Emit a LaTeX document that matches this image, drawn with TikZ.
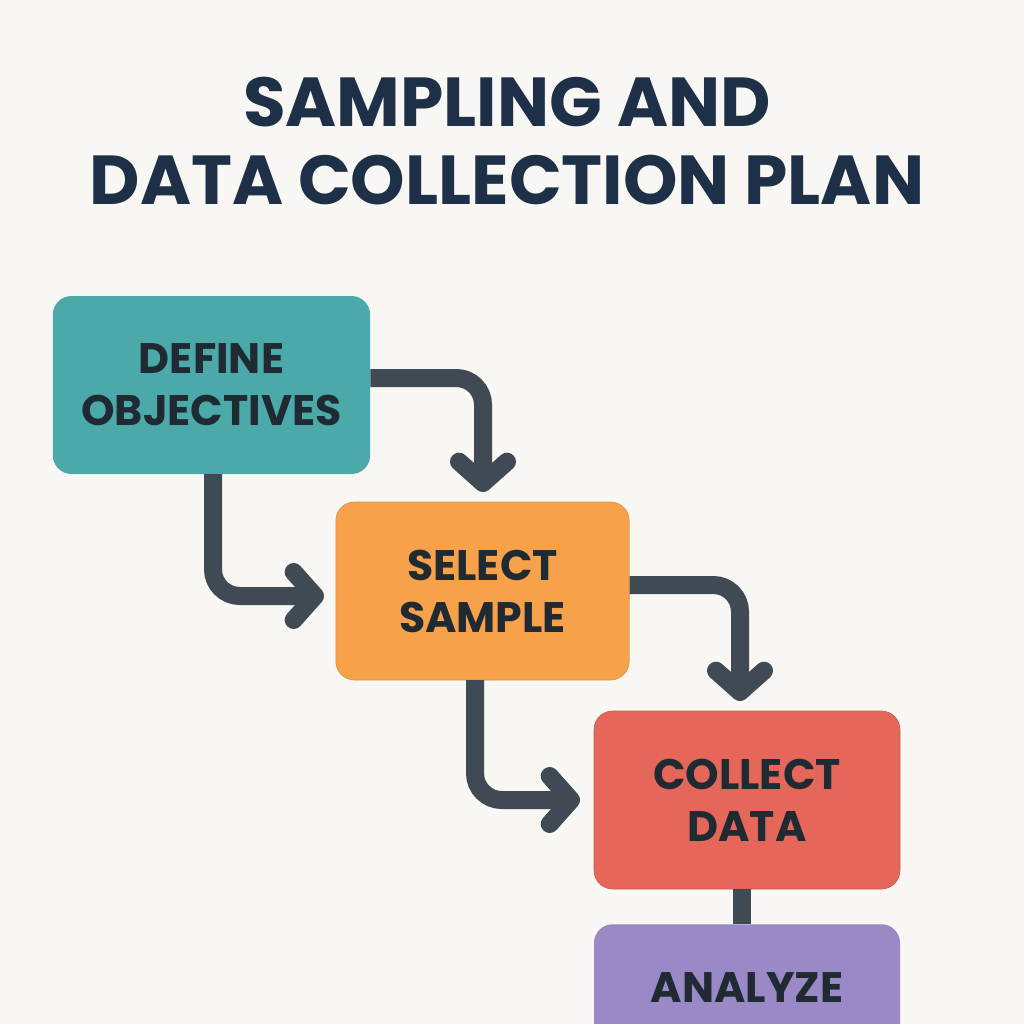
\documentclass[tikz,border=0pt]{standalone}
\usepackage{fontspec}
\setmainfont{Poppins}
\usetikzlibrary{arrows.meta}
\definecolor{bg}{HTML}{F8F7F3}
\definecolor{navy}{HTML}{1E3048}
\definecolor{conn}{HTML}{3F4A54}
\definecolor{teal}{HTML}{4BA9A9}
\definecolor{orng}{HTML}{F7A24A}
\definecolor{redc}{HTML}{E4675A}
\definecolor{purp}{HTML}{9B88C6}
\definecolor{txt}{HTML}{1F2A33}
\tikzset{
 box/.style={rounded corners=14pt,minimum width=#1,minimum height=133.5pt,inner sep=0pt,align=center,font=\fontsize{32}{39}\selectfont\bfseries,text=txt},
 conn/.style={draw=conn,line width=13.5pt,rounded corners=20pt,line cap=butt},
 arr/.style={conn,-{Straight Barb[length=16pt,width=36pt,line cap=round,line join=round]}}
}
\begin{document}
\begin{tikzpicture}[x=0.75pt,y=-0.75pt]
\useasboundingbox[fill=bg] (0,0) rectangle (1024,1024);
\node[font=\fontsize{52}{58}\selectfont\bfseries,text=navy,align=center] (title) at (507,141) {SAMPLING AND\\DATA COLLECTION PLAN};
\node[box=238pt,fill=teal] (b1) at (211.5,385) {DEFINE\\OBJECTIVES};
\node[box=220pt,fill=orng,draw=orng!90!black,line width=0.5pt] (b2) at (482.5,591) {SELECT\\SAMPLE};
\node[box=229.5pt,fill=redc,draw=redc!90!black,line width=0.5pt] (b3) at (747,800) {COLLECT\\DATA};
\begin{scope}
\clip (0,0) rectangle (1024,1024);
\node[box=229.5pt,fill=purp,anchor=north] (b4) at (747,924) {ANALYZE\\DATA};
\end{scope}
\coordinate (t1) at (483,492);
\coordinate (t2) at (324,596);
\coordinate (t3) at (740,701);
\coordinate (t4) at (580,800);
\draw[arr] (b1.east |- 0,378) -| (t1);
\draw[arr] (213,474) |- (t2);
\draw[arr] (b2.east |- 0,585) -| (t3);
\draw[arr] (475,680) |- (t4);
\draw[conn] (742,889) -- (742,924);
\end{tikzpicture}
\end{document}
